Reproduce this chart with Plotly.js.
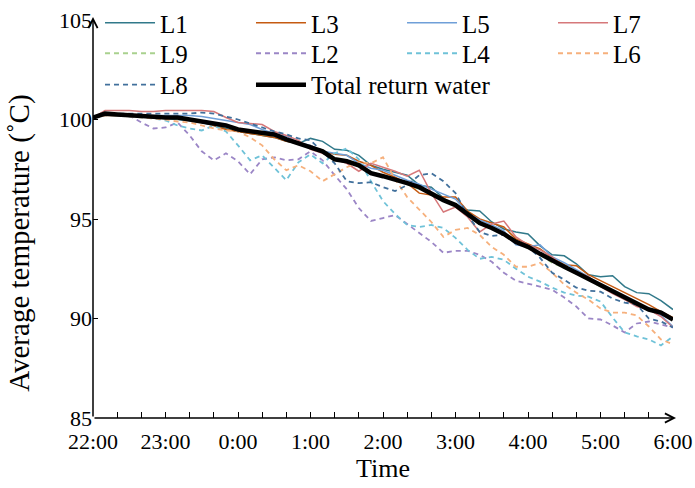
<!DOCTYPE html>
<html><head><meta charset="utf-8">
<script src="https://cdn.plot.ly/plotly-3.0.1.min.js"></script>
<style>html,body{margin:0;padding:0;background:#fff}#chart{width:695px;height:488px}</style>
</head><body><div id="chart"></div>
<script>
// minutes after 22:00, one reading every 10 minutes
const minutes = [0,10,20,30,40,50,60,70,80,90,100,110,120,130,140,150,160,170,180,190,200,210,220,230,240,250,260,270,280,290,300,310,320,330,340,350,360,370,380,390,400,410,420,430,440,450,460,470,480];
const tickPositions = [0,60,120,180,240,300,360,420,480];
const tickLabels = ["22:00","23:00","0:00","1:00","2:00","3:00","4:00","5:00","6:00"];
const yTicks = [85,90,95,100,105];

const L1 = [100.1,100.2,100.2,100.2,100.15,100.1,100.05,100.0,99.95,99.85,99.7,99.55,99.4,99.3,99.2,99.1,98.9,98.8,99.05,98.9,98.5,98.45,98.2,97.7,97.5,97.35,97.2,96.7,96.6,96.05,95.65,95.45,95.4,94.85,94.5,94.35,94.25,93.65,93.2,93.15,92.75,92.2,92.1,92.15,91.6,91.3,91.25,90.9,90.45];
const L3 = [100.1,100.2,100.2,100.2,100.15,100.1,100.1,100.05,100.0,99.9,99.7,99.5,99.4,99.3,99.2,99.1,98.9,98.8,98.7,98.4,98.25,98.2,97.9,97.7,97.35,97.1,96.8,96.3,96.2,96.1,96.1,95.4,95.0,94.8,94.6,94.0,93.75,93.5,93.05,92.7,92.65,92.2,91.9,91.6,91.3,91.0,90.7,90.35,90.05];
const L5 = [100.1,100.25,100.25,100.25,100.2,100.2,100.2,100.2,100.2,100.15,100.05,99.95,99.85,99.75,99.5,99.3,99.15,98.85,98.7,98.4,98.3,98.2,97.8,97.55,97.45,97.2,96.95,96.75,96.5,96.25,96.0,95.3,94.95,94.7,94.4,93.7,93.6,93.7,93.1,92.8,92.45,92.1,91.65,91.3,91.1,90.75,90.45,90.15,89.6];
const L7 = [100.1,100.45,100.45,100.45,100.4,100.4,100.45,100.45,100.45,100.45,100.4,100.1,99.85,99.8,99.75,99.4,99.2,98.95,98.5,98.3,98.0,97.8,97.4,97.8,97.6,97.4,97.15,97.45,96.3,95.35,95.6,95.1,94.35,94.75,94.9,94.1,93.7,93.45,93.1,92.6,92.35,92.1,91.6,91.25,90.95,90.6,90.45,90.1,89.55];
const L9 = [100.1,100.25,100.2,100.2,100.15,100.1,100.1,100.05,100.0,99.9,99.8,99.65,99.5,99.35,99.25,99.2,99.0,98.8,98.6,98.35,98.05,97.9,97.65,97.35,97.2,97.0,96.75,96.5,96.3,96.0,95.7,95.25,94.8,94.5,94.2,93.85,93.55,93.2,92.8,92.55,92.25,91.95,91.6,91.35,91.0,90.7,90.45,90.25,89.95];
const L2 = [100.1,100.2,100.2,100.2,99.85,99.55,99.6,99.85,99.2,98.4,97.95,98.3,97.9,97.25,98.0,98.1,97.95,98.0,98.4,97.95,97.2,96.5,95.55,94.9,95.05,95.2,94.75,94.3,93.85,93.3,93.4,93.4,93.2,92.85,92.3,91.9,91.75,91.6,91.45,91.05,90.6,90.0,89.95,89.65,89.3,89.75,89.85,89.7,89.55];
const L4 = [100.1,100.2,100.2,100.15,100.1,100.05,99.95,99.7,99.55,99.45,99.7,99.4,98.7,97.95,98.2,97.6,96.95,97.85,98.25,97.8,98.3,98.55,98.0,96.9,95.9,95.25,94.7,94.6,94.7,94.55,94.05,93.45,93.0,93.1,92.95,92.5,92.1,91.85,91.55,91.3,91.15,91.1,90.85,90.05,89.3,89.1,88.95,88.65,89.1];
const L6 = [100.1,100.2,100.2,100.15,100.1,100.05,100.0,99.9,99.85,99.7,99.55,99.45,99.4,99.1,98.7,98.0,97.45,97.7,97.4,96.9,97.25,97.6,97.85,97.8,98.1,97.0,96.1,95.45,94.85,94.1,94.45,94.55,94.2,93.6,93.2,92.6,92.6,92.8,92.3,91.7,91.3,90.95,90.5,90.3,90.3,90.15,89.6,88.95,88.7];
const L8 = [100.1,100.3,100.3,100.3,100.3,100.3,100.3,100.3,100.3,100.35,100.3,100.15,100.0,99.8,99.6,99.4,99.25,99.05,98.95,98.4,97.8,96.9,96.8,96.85,96.6,96.4,96.7,97.2,97.3,96.9,96.3,95.2,94.35,94.15,94.2,93.8,93.6,93.05,92.3,91.95,91.55,91.4,91.35,91.0,90.8,90.7,90.0,89.85,89.55];
const totalReturn = [100.1,100.3,100.25,100.2,100.2,100.15,100.1,100.1,100.0,99.95,99.85,99.7,99.5,99.4,99.3,99.25,99.0,98.8,98.65,98.4,98.0,97.9,97.7,97.3,97.15,97.0,96.8,96.6,96.25,95.95,95.7,95.25,94.8,94.55,94.25,93.85,93.6,93.25,92.9,92.6,92.3,92.0,91.65,91.4,91.05,90.75,90.45,90.3,89.95];

const DASH = '5px,4px';
// legend grid: column index and row index for each entry
const series = [
  {name:'L1', y:L1, color:'#31798a', dash:'solid', width:1.5, col:0, row:0},
  {name:'L3', y:L3, color:'#c55a11', dash:'solid', width:1.5, col:1, row:0},
  {name:'L5', y:L5, color:'#6f9fd8', dash:'solid', width:1.5, col:2, row:0},
  {name:'L7', y:L7, color:'#d6787a', dash:'solid', width:1.5, col:3, row:0},
  {name:'L9', y:L9, color:'#a9d18e', dash:DASH, width:1.8, col:0, row:1},
  {name:'L2', y:L2, color:'#9b86c6', dash:DASH, width:1.8, col:1, row:1},
  {name:'L4', y:L4, color:'#6fc2d8', dash:DASH, width:1.8, col:2, row:1},
  {name:'L6', y:L6, color:'#f6b07c', dash:DASH, width:1.8, col:3, row:1},
  {name:'L8', y:L8, color:'#41709c', dash:DASH, width:1.8, col:0, row:2},
  {name:'Total return water', y:totalReturn, color:'#000000', dash:'solid', width:4.5, col:1, row:2}
];
const FONT = 'Liberation Serif, Times New Roman, serif';
const colX = [0.0121, 0.2724, 0.5328, 0.7931];
const rowY = [1.05, 0.9736, 0.8946];

const layout = {
  width:695, height:488,
  margin:{l:93, r:22, t:20, b:70, pad:0, autoexpand:false},
  paper_bgcolor:'#fff', plot_bgcolor:'#fff',
  font:{family:FONT, color:'#000', size:22},
  showlegend:true,
  xaxis:{range:[0,480], tickmode:'array', tickvals:tickPositions, ticktext:tickLabels,
    ticks:'inside', ticklen:6, tickwidth:1, tickcolor:'#000', ticklabelstandoff:8,
    minor:{tickmode:'linear', tick0:0, dtick:20, ticks:'inside', ticklen:6, tickwidth:1, tickcolor:'#000', showgrid:false},
    showline:false, showgrid:false, zeroline:false, automargin:false,
    tickfont:{family:FONT, size:22, color:'#000'},
    title:{text:'Time', font:{family:FONT, size:26, color:'#000'}, standoff:5}},
  yaxis:{range:[85,105], tickmode:'array', tickvals:yTicks,
    ticks:'inside', ticklen:5, tickwidth:1, tickcolor:'#000',
    showline:false, showgrid:false, zeroline:false, automargin:false,
    tickfont:{family:FONT, size:22, color:'#000'}},
  annotations:[
    {xref:'x', yref:'y', axref:'x', ayref:'y', x:482.5, y:85, ax:0, ay:85, text:'', showarrow:true,
     arrowhead:5, arrowsize:1.2, arrowwidth:1.5, arrowcolor:'#000'},
    {xref:'x', yref:'y', axref:'x', ayref:'y', x:0, y:105.15, ax:0, ay:85, text:'', showarrow:true,
     arrowhead:5, arrowsize:1.2, arrowwidth:1.5, arrowcolor:'#000'},
    {xref:'paper', yref:'paper', x:-0.126, y:0.44, xanchor:'center', yanchor:'middle', textangle:-90,
     showarrow:false, text:'Average temperature (˚C)', font:{family:FONT, size:29, color:'#000'}}
  ]
};

const traces = series.map((s, i) => {
  const legendId = i === 0 ? 'legend' : 'legend' + (i + 1);
  layout[legendId] = {orientation:'v', x:colX[s.col], xanchor:'left', y:rowY[s.row], yanchor:'top', itemwidth:50,
    font:{family:FONT, size:25, color:'#000'}, bgcolor:'rgba(0,0,0,0)', borderwidth:0};
  return {type:'scatter', mode:'lines', x:minutes, y:s.y, name:s.name, legend:legendId,
    line:{color:s.color, dash:s.dash, width:s.width}};
});

Plotly.newPlot('chart', traces, layout, {staticPlot:true, displayModeBar:false});
</script></body></html>
